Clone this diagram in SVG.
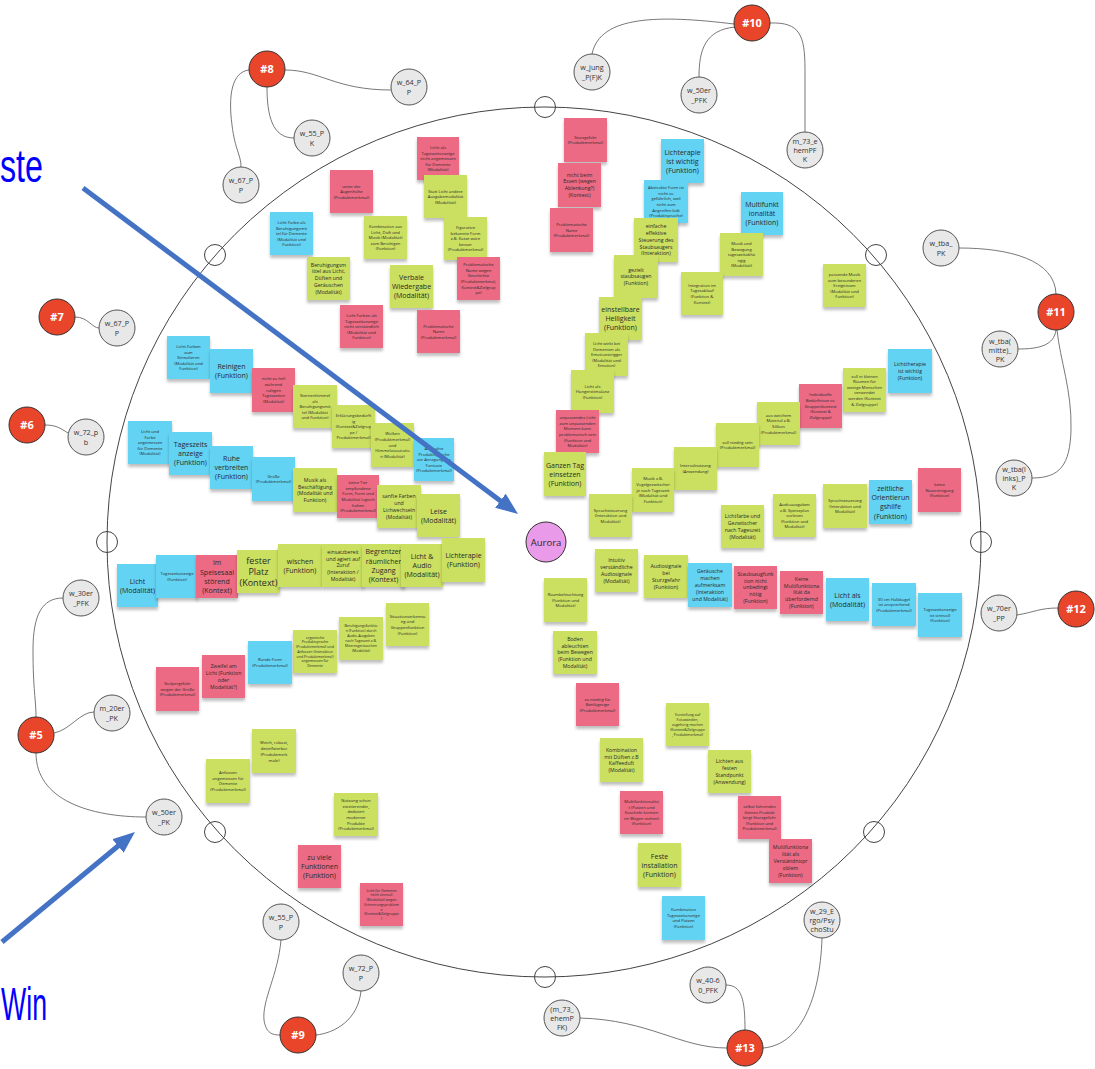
<svg xmlns="http://www.w3.org/2000/svg" width="1095" height="1069" viewBox="0 0 1095 1069">
<defs>
<filter id="sh" x="-10%" y="-10%" width="120%" height="140%"><feDropShadow dx="0" dy="3" stdDeviation="1.5" flood-color="#000" flood-opacity="0.25"/></filter>
<marker id="ah" viewBox="0 0 10 8" refX="2" refY="4" markerWidth="4.4" markerHeight="3.6" orient="auto" markerUnits="strokeWidth"><path d="M0,0 L10,4 L0,8 z" fill="#4472c4"/></marker>
<style>
.note rect{filter:url(#sh)}
.p rect{fill:#ec6a84}
.g rect{fill:#cbe060}
.b rect{fill:#62d3f3}
.t{font-family:"Open Sans","Liberation Sans",sans-serif;fill:#2a2a2a;text-anchor:middle}
.xs{font-size:3.6px}.s{font-size:4.2px}.m{font-size:5.2px}.l{font-size:7px}.xl{font-size:9px}
.per circle{fill:#e8e8e8;stroke:#555;stroke-width:1}
.per text{font-family:"Open Sans","Liberation Sans",sans-serif;font-size:7.2px;fill:#333;text-anchor:middle}
.red circle{fill:#e9452b;stroke:#333;stroke-width:1}
.red text{font-family:"Open Sans","Liberation Sans",sans-serif;font-size:11px;font-weight:bold;fill:#fff;text-anchor:middle}
.con path{fill:none;stroke:#555;stroke-width:0.8}
.ring{fill:none;stroke:#444;stroke-width:1}
.big{font-family:"Liberation Sans",sans-serif;font-size:46px;fill:#0000ff}
.arr{stroke:#4472c4;stroke-width:5;marker-end:url(#ah)}
</style>
</defs>
<rect width="1095" height="1069" fill="#fff"/>
<text class="big" x="0" y="182" textLength="43" lengthAdjust="spacingAndGlyphs">ste</text>
<text class="big" x="1" y="1020" textLength="46" lengthAdjust="spacingAndGlyphs">Win</text>

<g id="ring">
<ellipse class="ring" cx="544" cy="542" rx="437" ry="435"/>
<circle class="ring" cx="545" cy="107" r="10.5"/>
<circle class="ring" cx="545" cy="977" r="10.5"/>
<circle class="ring" cx="107" cy="542" r="10.5"/>
<circle class="ring" cx="981" cy="542" r="10.5"/>
<circle class="ring" cx="215" cy="255" r="10.5"/>
<circle class="ring" cx="876" cy="255" r="10.5"/>
<circle class="ring" cx="215" cy="832" r="10.5"/>
<circle class="ring" cx="874" cy="832" r="10.5"/>
</g>

<g id="connectors" class="con">
<path d="M249,70 C232,72 228,95 232,125 C235,150 241,155 241,167"/>
<path d="M285,70 C320,70 335,90 391,90"/>
<path d="M267,87 C267,115 272,138 294,138"/>
<path d="M734,24 C660,15 600,15 592,54"/>
<path d="M735,27 C705,30 699,50 699,77"/>
<path d="M770,23 C800,22 805,35 805,70 L805,132"/>
<path d="M959,248 C1010,248 1055,260 1056,294"/>
<path d="M1056,330 C1054,345 1040,349 1018,349"/>
<path d="M1057,330 C1060,360 1072,390 1071,430 C1070,465 1060,478 1032,478"/>
<path d="M75,317 C88,317 92,328 99,328"/>
<path d="M45,425 C56,425 60,428 68,433"/>
<path d="M63,598 C42,598 33,615 33,650 C33,690 36,700 36,717"/>
<path d="M54,733 C70,730 80,712 94,712"/>
<path d="M36,753 C36,800 90,817 146,817"/>
<path d="M1017,615 C1035,612 1040,608 1058,608"/>
<path d="M281,940 C278,975 262,1000 264,1020 C266,1033 272,1035 280,1035"/>
<path d="M361,991 C358,1020 335,1033 316,1035"/>
<path d="M580,1018 C650,1020 680,1048 727,1048"/>
<path d="M726,985 C742,985 745,1000 745,1030"/>
<path d="M763,1048 C800,1045 820,1000 822,938"/>
</g>

<g id="r8" class="red"><circle cx="267" cy="69" r="18"/><text x="267" y="73">#8</text></g>
<g id="r10" class="red"><circle cx="752" cy="23" r="18"/><text x="752" y="27">#10</text></g>
<g id="r11" class="red"><circle cx="1056" cy="312" r="18"/><text x="1056" y="316">#11</text></g>
<g id="r7" class="red"><circle cx="57" cy="317" r="18"/><text x="57" y="321">#7</text></g>
<g id="r6" class="red"><circle cx="27" cy="425" r="18"/><text x="27" y="429">#6</text></g>
<g id="r5" class="red"><circle cx="36" cy="735" r="18"/><text x="36" y="739">#5</text></g>
<g id="r12" class="red"><circle cx="1076" cy="609" r="18"/><text x="1076" y="613">#12</text></g>
<g id="r9" class="red"><circle cx="298" cy="1035" r="18"/><text x="298" y="1039">#9</text></g>
<g id="r13" class="red"><circle cx="745" cy="1048" r="18"/><text x="745" y="1052">#13</text></g>

<g id="p1" class="per"><circle cx="241" cy="185" r="18"/><text x="241" y="182.5">w_67_P<tspan x="241" dy="10">P</tspan></text></g>
<g id="p2" class="per"><circle cx="409" cy="87" r="18"/><text x="409" y="84.5">w_64_P<tspan x="409" dy="10">P</tspan></text></g>
<g id="p3" class="per"><circle cx="312" cy="138" r="18"/><text x="312" y="135.5">w_55_P<tspan x="312" dy="10">K</tspan></text></g>
<g id="p4" class="per"><circle cx="592" cy="72" r="18"/><text x="592" y="69.5">w_jung<tspan x="592" dy="10">_P(F)K</tspan></text></g>
<g id="p5" class="per"><circle cx="699" cy="95" r="18"/><text x="699" y="92.5">w_50er<tspan x="699" dy="10">_PFK</tspan></text></g>
<g id="p6" class="per"><circle cx="805" cy="150" r="18"/><text x="805" y="143.5">m_73_e<tspan x="805" dy="9">hemPF</tspan><tspan x="805" dy="9">K</tspan></text></g>
<g id="p7" class="per"><circle cx="941" cy="248" r="18"/><text x="941" y="245.5">w_tba_<tspan x="941" dy="10">PK</tspan></text></g>
<g id="p8" class="per"><circle cx="1000" cy="349" r="18"/><text x="1000" y="343.5">w_tba(<tspan x="1000" dy="9">mitte)_</tspan><tspan x="1000" dy="9">PK</tspan></text></g>
<g id="p9" class="per"><circle cx="1014" cy="478" r="18"/><text x="1014" y="471.5">w_tba(l<tspan x="1014" dy="9">inks)_P</tspan><tspan x="1014" dy="9">K</tspan></text></g>
<g id="p10" class="per"><circle cx="999" cy="613" r="18"/><text x="999" y="610.5">w_70er<tspan x="999" dy="10">_PP</tspan></text></g>
<g id="p11" class="per"><circle cx="117" cy="328" r="18"/><text x="117" y="325.5">w_67_P<tspan x="117" dy="10">P</tspan></text></g>
<g id="p12" class="per"><circle cx="86" cy="437" r="18"/><text x="86" y="434.5">w_72_p<tspan x="86" dy="10">b</tspan></text></g>
<g id="p13" class="per"><circle cx="81" cy="598" r="18"/><text x="81" y="595.5">w_30er<tspan x="81" dy="10">_PFK</tspan></text></g>
<g id="p14" class="per"><circle cx="112" cy="713" r="18"/><text x="112" y="710.5">m_20er<tspan x="112" dy="10">_PK</tspan></text></g>
<g id="p15" class="per"><circle cx="164" cy="817" r="18"/><text x="164" y="814.5">w_50er<tspan x="164" dy="10">_PK</tspan></text></g>
<g id="p16" class="per"><circle cx="281" cy="922" r="18"/><text x="281" y="919.5">w_55_P<tspan x="281" dy="10">P</tspan></text></g>
<g id="p17" class="per"><circle cx="361" cy="973" r="18"/><text x="361" y="970.5">w_72_P<tspan x="361" dy="10">P</tspan></text></g>
<g id="p18" class="per"><circle cx="562" cy="1018" r="18"/><text x="562" y="1011.5">(m_73_<tspan x="562" dy="9">ehemP</tspan><tspan x="562" dy="9">FK)</tspan></text></g>
<g id="p19" class="per"><circle cx="708" cy="985" r="18"/><text x="708" y="982.5">w_40-6<tspan x="708" dy="10">0_PFK</tspan></text></g>
<g id="p20" class="per"><circle cx="822" cy="920" r="18"/><text x="822" y="913.5">w_29_E<tspan x="822" dy="9">rgo/Psy</tspan><tspan x="822" dy="9">choStu</tspan></text></g>

<g id="n01" class="note p"><rect x="417" y="137" width="42" height="43"/><text class="t s" x="438" y="148.9"><tspan x="438">Licht als</tspan><tspan x="438" dy="5.6">Tageszeitanzeige</tspan><tspan x="438" dy="5.6">nicht angemessen</tspan><tspan x="438" dy="5.6">für Demente</tspan><tspan x="438" dy="5.6">(Modalität)</tspan></text></g>
<g id="n02" class="note p"><rect x="330" y="170" width="43" height="43"/><text class="t s" x="351.5" y="187.5"><tspan x="351.5">unter der</tspan><tspan x="351.5" dy="5.6">Augenhöhe</tspan><tspan x="351.5" dy="5.6">(Produktmerkmal)</tspan></text></g>
<g id="n03" class="note g"><rect x="424" y="175" width="43" height="43"/><text class="t s" x="445.5" y="192.5"><tspan x="445.5">Statt Licht andere</tspan><tspan x="445.5" dy="5.6">Ausgabemodalität</tspan><tspan x="445.5" dy="5.6">(Modalität)</tspan></text></g>
<g id="n04" class="note b"><rect x="270" y="212" width="43" height="43"/><text class="t s" x="291.5" y="223.9"><tspan x="291.5">Licht Farbe als</tspan><tspan x="291.5" dy="5.6">Beruhigungsmit</tspan><tspan x="291.5" dy="5.6">tel für Demente</tspan><tspan x="291.5" dy="5.6">(Modalität und</tspan><tspan x="291.5" dy="5.6">Funktion)</tspan></text></g>
<g id="n05" class="note g"><rect x="364" y="216" width="43" height="43"/><text class="t s" x="385.5" y="227.9"><tspan x="385.5">Kombination aus</tspan><tspan x="385.5" dy="5.6">Licht, Duft und</tspan><tspan x="385.5" dy="5.6">Musik (Modalität)</tspan><tspan x="385.5" dy="5.6">zum Beruhigen</tspan><tspan x="385.5" dy="5.6">(Funktion)</tspan></text></g>
<g id="n06" class="note g"><rect x="444" y="217" width="43" height="43"/><text class="t s" x="465.5" y="228.9"><tspan x="465.5">Figurative</tspan><tspan x="465.5" dy="5.6">bekannte Form</tspan><tspan x="465.5" dy="5.6">z.B. Katze wäre</tspan><tspan x="465.5" dy="5.6">besser</tspan><tspan x="465.5" dy="5.6">(Produktmerkmal)</tspan></text></g>
<g id="n07" class="note g"><rect x="307" y="257" width="43" height="43"/><text class="t m" x="328.5" y="266.6"><tspan x="328.5">Beruhigungsm</tspan><tspan x="328.5" dy="6.8">ittel aus Licht,</tspan><tspan x="328.5" dy="6.8">Düften und</tspan><tspan x="328.5" dy="6.8">Geräuschen</tspan><tspan x="328.5" dy="6.8">(Modalität)</tspan></text></g>
<g id="n08" class="note g"><rect x="390" y="265" width="43" height="43"/><text class="t l" x="411.5" y="280"><tspan x="411.5">Verbale</tspan><tspan x="411.5" dy="9.2">Wiedergabe</tspan><tspan x="411.5" dy="9.2">(Modalität)</tspan></text></g>
<g id="n09" class="note p"><rect x="457" y="257" width="43" height="43"/><text class="t s" x="478.5" y="266.1"><tspan x="478.5">Problematische</tspan><tspan x="478.5" dy="5.6">Name wegen</tspan><tspan x="478.5" dy="5.6">Geschichte</tspan><tspan x="478.5" dy="5.6">(Produktmerkmal,</tspan><tspan x="478.5" dy="5.6">Kontext&amp;Zielgrup</tspan><tspan x="478.5" dy="5.6">pe)</tspan></text></g>
<g id="n10" class="note p"><rect x="340" y="305" width="43" height="43"/><text class="t s" x="361.5" y="316.9"><tspan x="361.5">Licht Farben als</tspan><tspan x="361.5" dy="5.6">Tageszeitanzeige</tspan><tspan x="361.5" dy="5.6">nicht verständlich</tspan><tspan x="361.5" dy="5.6">(Modalität und</tspan><tspan x="361.5" dy="5.6">Funktion)</tspan></text></g>
<g id="n11" class="note p"><rect x="417" y="310" width="43" height="43"/><text class="t s" x="438.5" y="327.5"><tspan x="438.5">Problematische</tspan><tspan x="438.5" dy="5.6">Name</tspan><tspan x="438.5" dy="5.6">(Produktmerkmal)</tspan></text></g>

<g id="n13" class="note p"><rect x="564" y="118" width="43" height="44"/><text class="t s" x="585.5" y="138.8"><tspan x="585.5">Sturzgefahr</tspan><tspan x="585.5" dy="5.6">(Produktmerkmal)</tspan></text></g>
<g id="n14" class="note p"><rect x="558" y="163" width="43" height="44"/><text class="t m" x="579.5" y="176.6"><tspan x="579.5">nicht beim</tspan><tspan x="579.5" dy="6.8">Essen (wegen</tspan><tspan x="579.5" dy="6.8">Ablenkung?)</tspan><tspan x="579.5" dy="6.8">(Kontext)</tspan></text></g>
<g id="n15" class="note p"><rect x="550" y="208" width="43" height="44"/><text class="t s" x="571.5" y="226"><tspan x="571.5">Problematische</tspan><tspan x="571.5" dy="5.6">Name</tspan><tspan x="571.5" dy="5.6">(Produktmerkmal)</tspan></text></g>
<g id="n16" class="note b"><rect x="661" y="139" width="43" height="44"/><text class="t l" x="682.5" y="154.5"><tspan x="682.5">Lichterapie</tspan><tspan x="682.5" dy="9.2">ist wichtig</tspan><tspan x="682.5" dy="9.2">(Funktion)</tspan></text></g>
<g id="n17" class="note b"><rect x="644" y="180" width="44" height="43"/><text class="t s" x="666" y="189.1"><tspan x="666">Abstrakte Form ist</tspan><tspan x="666" dy="5.6">nicht so</tspan><tspan x="666" dy="5.6">gefährlich, weil</tspan><tspan x="666" dy="5.6">nicht zum</tspan><tspan x="666" dy="5.6">Angreifen lädt</tspan><tspan x="666" dy="5.6">(Produktsprache)</tspan></text></g>
<g id="n18" class="note g"><rect x="634" y="218" width="44" height="44"/><text class="t m" x="656" y="228.1"><tspan x="656">einfache</tspan><tspan x="656" dy="6.8">effektive</tspan><tspan x="656" dy="6.8">Steuerung des</tspan><tspan x="656" dy="6.8">Staubsaugers</tspan><tspan x="656" dy="6.8">(Interaktion)</tspan></text></g>
<g id="n19" class="note b"><rect x="741" y="192" width="42" height="43"/><text class="t l" x="762" y="207"><tspan x="762">Multifunkt</tspan><tspan x="762" dy="9.2">ionalität</tspan><tspan x="762" dy="9.2">(Funktion)</tspan></text></g>
<g id="n20" class="note g"><rect x="720" y="233" width="43" height="43"/><text class="t s" x="741.5" y="244.9"><tspan x="741.5">Musik und</tspan><tspan x="741.5" dy="5.6">Bewegung</tspan><tspan x="741.5" dy="5.6">tageszeitabhä</tspan><tspan x="741.5" dy="5.6">ngig</tspan><tspan x="741.5" dy="5.6">(Modalität)</tspan></text></g>
<g id="n21" class="note g"><rect x="614" y="255" width="44" height="43"/><text class="t m" x="636" y="271.6"><tspan x="636">gezielt</tspan><tspan x="636" dy="6.8">staubsaugen</tspan><tspan x="636" dy="6.8">(Funktion)</tspan></text></g>
<g id="n22" class="note g"><rect x="681" y="272" width="42" height="43"/><text class="t s" x="702" y="286.7"><tspan x="702">Integration im</tspan><tspan x="702" dy="5.6">Tagesablauf</tspan><tspan x="702" dy="5.6">(Funktion &amp;</tspan><tspan x="702" dy="5.6">Kontext)</tspan></text></g>
<g id="n23" class="note g"><rect x="599" y="297" width="43" height="43"/><text class="t l" x="620.5" y="312"><tspan x="620.5">einstellbare</tspan><tspan x="620.5" dy="9.2">Helligkeit</tspan><tspan x="620.5" dy="9.2">(Funktion)</tspan></text></g>
<g id="n24" class="note g"><rect x="585" y="333" width="43" height="43"/><text class="t s" x="606.5" y="344.9"><tspan x="606.5">Licht wirkt bei</tspan><tspan x="606.5" dy="5.6">Dementen als</tspan><tspan x="606.5" dy="5.6">Emotionstrigger</tspan><tspan x="606.5" dy="5.6">(Modalität und</tspan><tspan x="606.5" dy="5.6">Emotion)</tspan></text></g>
<g id="n25" class="note g"><rect x="571" y="370" width="43" height="43"/><text class="t s" x="592.5" y="387.5"><tspan x="592.5">Licht als</tspan><tspan x="592.5" dy="5.6">Hungerstimulanz</tspan><tspan x="592.5" dy="5.6">(Funktion)</tspan></text></g>
<g id="n26" class="note p"><rect x="556" y="410" width="43" height="43"/><text class="t s" x="577.5" y="419.1"><tspan x="577.5">unpassendes Licht</tspan><tspan x="577.5" dy="5.6">zum unpassenden</tspan><tspan x="577.5" dy="5.6">Moment kann</tspan><tspan x="577.5" dy="5.6">problematisch sein</tspan><tspan x="577.5" dy="5.6">(Funktion und</tspan><tspan x="577.5" dy="5.6">Modalität)</tspan></text></g>
<g id="n27" class="note g"><rect x="544" y="452" width="42" height="44"/><text class="t l" x="565" y="467.5"><tspan x="565">Ganzen Tag</tspan><tspan x="565" dy="9.2">einsetzen</tspan><tspan x="565" dy="9.2">(Funktion)</tspan></text></g>

<g id="n53" class="note g"><rect x="823" y="264" width="43" height="43"/><text class="t s" x="844.5" y="275.9"><tspan x="844.5">passende Musik</tspan><tspan x="844.5" dy="5.6">zum besonderen</tspan><tspan x="844.5" dy="5.6">Ereignissen</tspan><tspan x="844.5" dy="5.6">(Modalität und</tspan><tspan x="844.5" dy="5.6">Funktion)</tspan></text></g>
<g id="n47" class="note b"><rect x="888" y="349" width="44" height="44"/><text class="t m" x="910" y="366.1"><tspan x="910">Lichttherapie</tspan><tspan x="910" dy="6.8">ist wichtig</tspan><tspan x="910" dy="6.8">(Funktion)</tspan></text></g>
<g id="n46" class="note g"><rect x="843" y="368" width="43" height="44"/><text class="t s" x="864.5" y="377.6"><tspan x="864.5">soll in kleinen</tspan><tspan x="864.5" dy="5.6">Räumen für</tspan><tspan x="864.5" dy="5.6">wenige Menschen</tspan><tspan x="864.5" dy="5.6">verwendet</tspan><tspan x="864.5" dy="5.6">werden (Kontext</tspan><tspan x="864.5" dy="5.6">&amp; Zielgruppe)</tspan></text></g>
<g id="n33" class="note p"><rect x="799" y="384" width="43" height="44"/><text class="t s" x="820.5" y="396.4"><tspan x="820.5">Individuelle</tspan><tspan x="820.5" dy="5.6">Bedürfnisse vs.</tspan><tspan x="820.5" dy="5.6">Gruppenkontext</tspan><tspan x="820.5" dy="5.6">(Kontext &amp;</tspan><tspan x="820.5" dy="5.6">Zielgruppe)</tspan></text></g>
<g id="n32" class="note g"><rect x="757" y="402" width="43" height="43"/><text class="t s" x="778.5" y="416.7"><tspan x="778.5">aus weichem</tspan><tspan x="778.5" dy="5.6">Material z.B.</tspan><tspan x="778.5" dy="5.6">Silikon</tspan><tspan x="778.5" dy="5.6">(Produktmerkmal)</tspan></text></g>
<g id="n31" class="note g"><rect x="716" y="423" width="43" height="44"/><text class="t s" x="737.5" y="443.8"><tspan x="737.5">soll niedrig sein</tspan><tspan x="737.5" dy="5.6">(Produktmerkmal)</tspan></text></g>
<g id="n30" class="note g"><rect x="674" y="447" width="43" height="43"/><text class="t s" x="695.5" y="467.3"><tspan x="695.5">Intervalnutzung</tspan><tspan x="695.5" dy="5.6">(Anwendung)</tspan></text></g>
<g id="n29" class="note g"><rect x="632" y="468" width="42" height="44"/><text class="t s" x="653" y="480.4"><tspan x="653">Musik z.B.</tspan><tspan x="653" dy="5.6">Vogelgezwitscher</tspan><tspan x="653" dy="5.6">je nach Tageszeit</tspan><tspan x="653" dy="5.6">(Modalität und</tspan><tspan x="653" dy="5.6">Funktion)</tspan></text></g>
<g id="n28" class="note g"><rect x="589" y="494" width="43" height="43"/><text class="t s" x="610.5" y="511.5"><tspan x="610.5">Sprachsteuerung</tspan><tspan x="610.5" dy="5.6">(Interaktion und</tspan><tspan x="610.5" dy="5.6">Modalität)</tspan></text></g>
<g id="n49" class="note p"><rect x="918" y="468" width="43" height="44"/><text class="t s" x="939.5" y="486"><tspan x="939.5">keine</tspan><tspan x="939.5" dy="5.6">Nassreinigung</tspan><tspan x="939.5" dy="5.6">(Funktion)</tspan></text></g>
<g id="n48" class="note b"><rect x="869" y="480" width="43" height="44"/><text class="t l" x="890.5" y="490.9"><tspan x="890.5">zeitliche</tspan><tspan x="890.5" dy="9.2">Orientierun</tspan><tspan x="890.5" dy="9.2">gshilfe</tspan><tspan x="890.5" dy="9.2">(Funktion)</tspan></text></g>
<g id="n36" class="note g"><rect x="823" y="484" width="44" height="44"/><text class="t s" x="845" y="502"><tspan x="845">Sprachsteuerung</tspan><tspan x="845" dy="5.6">(Interaktion und</tspan><tspan x="845" dy="5.6">Modalität)</tspan></text></g>
<g id="n35" class="note g"><rect x="773" y="494" width="43" height="43"/><text class="t s" x="794.5" y="505.9"><tspan x="794.5">Audioausgaben</tspan><tspan x="794.5" dy="5.6">z.B. Speiseplan</tspan><tspan x="794.5" dy="5.6">vorlesen</tspan><tspan x="794.5" dy="5.6">(Funktion und</tspan><tspan x="794.5" dy="5.6">Modalität)</tspan></text></g>
<g id="n34" class="note g"><rect x="721" y="505" width="43" height="43"/><text class="t m" x="742.5" y="518.2"><tspan x="742.5">Lichtfarbe und</tspan><tspan x="742.5" dy="6.8">Gezwitscher</tspan><tspan x="742.5" dy="6.8">nach Tageszeit</tspan><tspan x="742.5" dy="6.8">(Modalität)</tspan></text></g>

<g id="n37" class="note g"><rect x="595" y="549" width="43" height="43"/><text class="t m" x="616.5" y="562.2"><tspan x="616.5">Intuitiv</tspan><tspan x="616.5" dy="6.8">verständliche</tspan><tspan x="616.5" dy="6.8">Audiosignale</tspan><tspan x="616.5" dy="6.8">(Modalität)</tspan></text></g>
<g id="n38" class="note g"><rect x="644" y="555" width="44" height="43"/><text class="t m" x="666" y="568.2"><tspan x="666">Audiosignale</tspan><tspan x="666" dy="6.8">bei</tspan><tspan x="666" dy="6.8">Sturzgefahr</tspan><tspan x="666" dy="6.8">(Funktion)</tspan></text></g>
<g id="n39" class="note b"><rect x="688" y="563" width="44" height="44"/><text class="t m" x="710" y="573.3"><tspan x="710">Geräusche</tspan><tspan x="710" dy="6.8">machen</tspan><tspan x="710" dy="6.8">aufmerksam</tspan><tspan x="710" dy="6.8">(Interaktion</tspan><tspan x="710" dy="6.8">und Modalität)</tspan></text></g>
<g id="n40" class="note p"><rect x="734" y="566" width="43" height="43"/><text class="t m" x="755.5" y="575.8"><tspan x="755.5">Staubsaugfunk</tspan><tspan x="755.5" dy="6.8">tion nicht</tspan><tspan x="755.5" dy="6.8">unbedingt</tspan><tspan x="755.5" dy="6.8">nötig</tspan><tspan x="755.5" dy="6.8">(Funktion)</tspan></text></g>
<g id="n41" class="note p"><rect x="780" y="571" width="43" height="43"/><text class="t m" x="801.5" y="580.8"><tspan x="801.5">Keine</tspan><tspan x="801.5" dy="6.8">Multifunktiona</tspan><tspan x="801.5" dy="6.8">lität da</tspan><tspan x="801.5" dy="6.8">überfordernd</tspan><tspan x="801.5" dy="6.8">(Funktion)</tspan></text></g>
<g id="n50" class="note b"><rect x="826" y="578" width="43" height="43"/><text class="t l" x="847.5" y="597.6"><tspan x="847.5">Licht als</tspan><tspan x="847.5" dy="9.2">(Modalität)</tspan></text></g>
<g id="n51" class="note b"><rect x="872" y="583" width="44" height="43"/><text class="t s" x="894" y="600.5"><tspan x="894">30 cm Halbkugel</tspan><tspan x="894" dy="5.6">ist ansprechend</tspan><tspan x="894" dy="5.6">(Produktmerkmal)</tspan></text></g>
<g id="n52" class="note b"><rect x="918" y="593" width="44" height="44"/><text class="t s" x="940" y="611"><tspan x="940">Tageszeitanzeige</tspan><tspan x="940" dy="5.6">ist sinnvoll</tspan><tspan x="940" dy="5.6">(Funktion)</tspan></text></g>
<g id="n42" class="note g"><rect x="544" y="578" width="43" height="44"/><text class="t s" x="565.5" y="596"><tspan x="565.5">Raumbeleuchtung</tspan><tspan x="565.5" dy="5.6">(Funktion und</tspan><tspan x="565.5" dy="5.6">Modalität)</tspan></text></g>
<g id="n43" class="note g"><rect x="553" y="631" width="44" height="43"/><text class="t m" x="575" y="640.8"><tspan x="575">Boden</tspan><tspan x="575" dy="6.8">ableuchten</tspan><tspan x="575" dy="6.8">beim Bewegen</tspan><tspan x="575" dy="6.8">(Funktion und</tspan><tspan x="575" dy="6.8">Modalität)</tspan></text></g>
<g id="n44" class="note p"><rect x="576" y="683" width="43" height="43"/><text class="t s" x="597.5" y="700.5"><tspan x="597.5">zu niedrig für</tspan><tspan x="597.5" dy="5.6">Bettlägerige</tspan><tspan x="597.5" dy="5.6">(Produktmerkmal)</tspan></text></g>
<g id="n45" class="note g"><rect x="666" y="703" width="43" height="43"/><text class="t xs" x="687.5" y="715.8"><tspan x="687.5">Vorstellung auf</tspan><tspan x="687.5" dy="5">Fotowänden,</tspan><tspan x="687.5" dy="5">zugehörig machen</tspan><tspan x="687.5" dy="5">(Kontext&amp;Zielgruppe</tspan><tspan x="687.5" dy="5">, Produktmerkmal)</tspan></text></g>
<g id="n89" class="note g"><rect x="600" y="738" width="43" height="44"/><text class="t m" x="621.5" y="751.7"><tspan x="621.5">Kombination</tspan><tspan x="621.5" dy="6.8">mit Düften z.B</tspan><tspan x="621.5" dy="6.8">Kaffeeduft</tspan><tspan x="621.5" dy="6.8">(Modalität)</tspan></text></g>
<g id="n90" class="note g"><rect x="708" y="750" width="43" height="43"/><text class="t m" x="729.5" y="763.2"><tspan x="729.5">Lichten aus</tspan><tspan x="729.5" dy="6.8">festen</tspan><tspan x="729.5" dy="6.8">Standpunkt</tspan><tspan x="729.5" dy="6.8">(Anwendung)</tspan></text></g>
<g id="n91" class="note p"><rect x="620" y="791" width="43" height="43"/><text class="t s" x="641.5" y="802.9"><tspan x="641.5">Multifunktionalitä</tspan><tspan x="641.5" dy="5.6">t (Putzen und</tspan><tspan x="641.5" dy="5.6">Kuscheln können</tspan><tspan x="641.5" dy="5.6">im Wegen stehen)</tspan><tspan x="641.5" dy="5.6">(Funktion)</tspan></text></g>
<g id="n92" class="note p"><rect x="738" y="796" width="43" height="43"/><text class="t s" x="759.5" y="807.9"><tspan x="759.5">selbst fahrendes</tspan><tspan x="759.5" dy="5.6">kleines Produkt</tspan><tspan x="759.5" dy="5.6">birgt Sturzgefahr</tspan><tspan x="759.5" dy="5.6">(Funktion und</tspan><tspan x="759.5" dy="5.6">Produktmerkmal)</tspan></text></g>
<g id="n93" class="note p"><rect x="769" y="839" width="43" height="44"/><text class="t m" x="790.5" y="849.3"><tspan x="790.5">Multifunktiona</tspan><tspan x="790.5" dy="6.8">lität als</tspan><tspan x="790.5" dy="6.8">Verständnispr</tspan><tspan x="790.5" dy="6.8">oblem</tspan><tspan x="790.5" dy="6.8">(Funktion)</tspan></text></g>
<g id="n94" class="note g"><rect x="638" y="843" width="43" height="44"/><text class="t l" x="659.5" y="858.5"><tspan x="659.5">Feste</tspan><tspan x="659.5" dy="9.2">installation</tspan><tspan x="659.5" dy="9.2">(Funktion)</tspan></text></g>
<g id="n95" class="note b"><rect x="662" y="896" width="43" height="44"/><text class="t s" x="683.5" y="911.2"><tspan x="683.5">Kombination</tspan><tspan x="683.5" dy="5.6">Tageszeitanzeige</tspan><tspan x="683.5" dy="5.6">und Putzen</tspan><tspan x="683.5" dy="5.6">(Funktion)</tspan></text></g>

<g id="n54" class="note b"><rect x="167" y="336" width="43" height="43"/><text class="t s" x="188.5" y="347.9"><tspan x="188.5">Licht-Farben</tspan><tspan x="188.5" dy="5.6">zum</tspan><tspan x="188.5" dy="5.6">Stimulieren</tspan><tspan x="188.5" dy="5.6">(Modalität und</tspan><tspan x="188.5" dy="5.6">Funktion)</tspan></text></g>
<g id="n55" class="note b"><rect x="210" y="349" width="43" height="44"/><text class="t l" x="231.5" y="369.1"><tspan x="231.5">Reinigen</tspan><tspan x="231.5" dy="9.2">(Funktion)</tspan></text></g>
<g id="n56" class="note p"><rect x="252" y="368" width="43" height="44"/><text class="t s" x="273.5" y="380.4"><tspan x="273.5">nicht zu hell</tspan><tspan x="273.5" dy="5.6">während</tspan><tspan x="273.5" dy="5.6">ruhigen</tspan><tspan x="273.5" dy="5.6">Tageszeiten</tspan><tspan x="273.5" dy="5.6">(Modalität)</tspan></text></g>
<g id="n61" class="note g"><rect x="293" y="385" width="44" height="43"/><text class="t s" x="315" y="396.9"><tspan x="315">Sternenhimmel</tspan><tspan x="315" dy="5.6">als</tspan><tspan x="315" dy="5.6">Beruhigungsmit</tspan><tspan x="315" dy="5.6">tel (Modalität</tspan><tspan x="315" dy="5.6">und Funktion)</tspan></text></g>
<g id="n62" class="note g"><rect x="332" y="405" width="43" height="43"/><text class="t s" x="353.5" y="416.9"><tspan x="353.5">Erklärungsbedürft</tspan><tspan x="353.5" dy="5.6">ig</tspan><tspan x="353.5" dy="5.6">(Kontext&amp;Zielgrup</tspan><tspan x="353.5" dy="5.6">pe /</tspan><tspan x="353.5" dy="5.6">Produktmerkmal)</tspan></text></g>
<g id="n63" class="note g"><rect x="371" y="423" width="43" height="44"/><text class="t s" x="392.5" y="435.4"><tspan x="392.5">Wolken</tspan><tspan x="392.5" dy="5.6">(Produktmerkmal)</tspan><tspan x="392.5" dy="5.6">und</tspan><tspan x="392.5" dy="5.6">Himmelassoziatio</tspan><tspan x="392.5" dy="5.6">n (Modalität)</tspan></text></g>
<g id="n64" class="note b"><rect x="414" y="438" width="40" height="43"/><text class="t s" x="434" y="449.9"><tspan x="434">Abstrakte</tspan><tspan x="434" dy="5.6">Produktsprache</tspan><tspan x="434" dy="5.6">zur Anregung der</tspan><tspan x="434" dy="5.6">Fantasie</tspan><tspan x="434" dy="5.6">(Produktmerkmal)</tspan></text></g>
<g id="n57" class="note b"><rect x="128" y="421" width="44" height="43"/><text class="t s" x="150" y="432.9"><tspan x="150">Licht und</tspan><tspan x="150" dy="5.6">Farbe</tspan><tspan x="150" dy="5.6">angemessen</tspan><tspan x="150" dy="5.6">für Demente</tspan><tspan x="150" dy="5.6">(Modalität)</tspan></text></g>
<g id="n58" class="note b"><rect x="169" y="432" width="43" height="43"/><text class="t l" x="190.5" y="447"><tspan x="190.5">Tageszeits</tspan><tspan x="190.5" dy="9.2">anzeige</tspan><tspan x="190.5" dy="9.2">(Funktion)</tspan></text></g>
<g id="n59" class="note b"><rect x="210" y="446" width="43" height="43"/><text class="t l" x="231.5" y="461"><tspan x="231.5">Ruhe</tspan><tspan x="231.5" dy="9.2">verbreiten</tspan><tspan x="231.5" dy="9.2">(Funktion)</tspan></text></g>
<g id="n60" class="note b"><rect x="252" y="457" width="43" height="44"/><text class="t s" x="273.5" y="477.8"><tspan x="273.5">Größe</tspan><tspan x="273.5" dy="5.6">(Produktmerkmal)</tspan></text></g>
<g id="n65" class="note g"><rect x="293" y="468" width="44" height="44"/><text class="t m" x="315" y="481.7"><tspan x="315">Musik als</tspan><tspan x="315" dy="6.8">Beschäftigung</tspan><tspan x="315" dy="6.8">(Modalität und</tspan><tspan x="315" dy="6.8">Funktion)</tspan></text></g>
<g id="n66" class="note p"><rect x="337" y="475" width="42" height="43"/><text class="t s" x="358" y="484.1"><tspan x="358">keine Tier</tspan><tspan x="358" dy="5.6">empfundene</tspan><tspan x="358" dy="5.6">Form, Form und</tspan><tspan x="358" dy="5.6">Modalität logisch</tspan><tspan x="358" dy="5.6">halten</tspan><tspan x="358" dy="5.6">(Produktmerkmal)</tspan></text></g>
<g id="n67" class="note g"><rect x="377" y="485" width="44" height="43"/><text class="t m" x="399" y="498.2"><tspan x="399">sanfte Farben</tspan><tspan x="399" dy="6.8">und</tspan><tspan x="399" dy="6.8">Lichwechseln</tspan><tspan x="399" dy="6.8">(Modalität)</tspan></text></g>
<g id="n68" class="note g"><rect x="417" y="494" width="43" height="43"/><text class="t l" x="438.5" y="513.6"><tspan x="438.5">Leise</tspan><tspan x="438.5" dy="9.2">(Modalität)</tspan></text></g>

<g id="n69" class="note b"><rect x="117" y="564" width="41" height="43"/><text class="t l" x="137.5" y="583.6"><tspan x="137.5">Licht</tspan><tspan x="137.5" dy="9.2">(Modalität)</tspan></text></g>
<g id="n70" class="note b"><rect x="156" y="555" width="42" height="43"/><text class="t s" x="177" y="575.3"><tspan x="177">Tageszeitanzeige</tspan><tspan x="177" dy="5.6">(Funktion)</tspan></text></g>
<g id="n71" class="note p"><rect x="196" y="555" width="42" height="43"/><text class="t l" x="217" y="565.4"><tspan x="217">im</tspan><tspan x="217" dy="9.2">Speisesaal</tspan><tspan x="217" dy="9.2">störend</tspan><tspan x="217" dy="9.2">(Kontext)</tspan></text></g>
<g id="n72" class="note g"><rect x="237" y="550" width="43" height="43"/><text class="t xl" x="258.5" y="563.7"><tspan x="258.5">fester</tspan><tspan x="258.5" dy="11">Platz</tspan><tspan x="258.5" dy="11">(Kontext)</tspan></text></g>
<g id="n73" class="note g"><rect x="278" y="544" width="44" height="43"/><text class="t l" x="300" y="563.6"><tspan x="300">wischen</tspan><tspan x="300" dy="9.2">(Funktion)</tspan></text></g>
<g id="n74" class="note g"><rect x="322" y="544" width="42" height="43"/><text class="t m" x="343" y="553.8"><tspan x="343">einsatzbereit</tspan><tspan x="343" dy="6.8">und agiert auf</tspan><tspan x="343" dy="6.8">Zuruf</tspan><tspan x="343" dy="6.8">(Interaktion /</tspan><tspan x="343" dy="6.8">Modalität)</tspan></text></g>
<g id="n75" class="note g"><rect x="362" y="544" width="43" height="43"/><text class="t l" x="383.5" y="554.4"><tspan x="383.5">Begrentzer</tspan><tspan x="383.5" dy="9.2">räumlicher</tspan><tspan x="383.5" dy="9.2">Zugang</tspan><tspan x="383.5" dy="9.2">(Kontext)</tspan></text></g>
<g id="n76" class="note g"><rect x="401" y="544" width="42" height="43"/><text class="t l" x="422" y="559"><tspan x="422">Licht &amp;</tspan><tspan x="422" dy="9.2">Audio</tspan><tspan x="422" dy="9.2">(Modalität)</tspan></text></g>
<g id="n77" class="note g"><rect x="442" y="538" width="43" height="44"/><text class="t l" x="463.5" y="558.1"><tspan x="463.5">Lichterapie</tspan><tspan x="463.5" dy="9.2">(Funktion)</tspan></text></g>

<g id="n83" class="note g"><rect x="386" y="603" width="43" height="43"/><text class="t s" x="407.5" y="617.7"><tspan x="407.5">Situationserkennu</tspan><tspan x="407.5" dy="5.6">ng und</tspan><tspan x="407.5" dy="5.6">Gruppenfunktion</tspan><tspan x="407.5" dy="5.6">(Funktion)</tspan></text></g>
<g id="n82" class="note g"><rect x="339" y="617" width="44" height="43"/><text class="t xs" x="361" y="627.3"><tspan x="361">Beruhigungsfunktio</tspan><tspan x="361" dy="5">n (Funktion) durch</tspan><tspan x="361" dy="5">Audio-Ausgaben</tspan><tspan x="361" dy="5">nach Tageszeit z.B.</tspan><tspan x="361" dy="5">Meeresgeräuschen</tspan><tspan x="361" dy="5">(Modalität)</tspan></text></g>
<g id="n81" class="note g"><rect x="293" y="630" width="44" height="43"/><text class="t xs" x="315" y="638.7"><tspan x="315">organische</tspan><tspan x="315" dy="4.7">Produktsprache</tspan><tspan x="315" dy="4.7">(Produktmerkmal) und</tspan><tspan x="315" dy="4.7">Anfassen (Interaktion</tspan><tspan x="315" dy="4.7">und Produktmerkmal)</tspan><tspan x="315" dy="4.7">angemessen für</tspan><tspan x="315" dy="4.7">Demente</tspan></text></g>
<g id="n80" class="note b"><rect x="248" y="641" width="44" height="43"/><text class="t s" x="270" y="661.3"><tspan x="270">Runde Form</tspan><tspan x="270" dy="5.6">(Produktmerkmal)</tspan></text></g>
<g id="n79" class="note p"><rect x="202" y="655" width="43" height="43"/><text class="t m" x="223.5" y="668.2"><tspan x="223.5">Zweifel am</tspan><tspan x="223.5" dy="6.8">Licht (Funktion</tspan><tspan x="223.5" dy="6.8">oder</tspan><tspan x="223.5" dy="6.8">Modalität?)</tspan></text></g>
<g id="n78" class="note p"><rect x="156" y="667" width="43" height="44"/><text class="t s" x="177.5" y="685"><tspan x="177.5">Stolpergefahr</tspan><tspan x="177.5" dy="5.6">wegen der Größe</tspan><tspan x="177.5" dy="5.6">(Produktmerkmal)</tspan></text></g>
<g id="n84" class="note g"><rect x="252" y="729" width="44" height="44"/><text class="t s" x="274" y="743.6"><tspan x="274">Weich, robust,</tspan><tspan x="274" dy="6">desinfizierbar</tspan><tspan x="274" dy="6">(Produktmerk</tspan><tspan x="274" dy="6">male)</tspan></text></g>
<g id="n85" class="note g"><rect x="206" y="759" width="44" height="44"/><text class="t s" x="228" y="774.2"><tspan x="228">Anfassen</tspan><tspan x="228" dy="5.6">angemessen für</tspan><tspan x="228" dy="5.6">Demente</tspan><tspan x="228" dy="5.6">(Produktmerkmal)</tspan></text></g>
<g id="n86" class="note g"><rect x="334" y="793" width="44" height="43"/><text class="t s" x="356" y="802.1"><tspan x="356">Nutzung schon</tspan><tspan x="356" dy="5.6">existierender,</tspan><tspan x="356" dy="5.6">dediziert</tspan><tspan x="356" dy="5.6">moderner</tspan><tspan x="356" dy="5.6">Produkte</tspan><tspan x="356" dy="5.6">(Produktmerkmal)</tspan></text></g>
<g id="n87" class="note p"><rect x="298" y="845" width="43" height="43"/><text class="t l" x="319.5" y="860"><tspan x="319.5">zu viele</tspan><tspan x="319.5" dy="9.2">Funktionen</tspan><tspan x="319.5" dy="9.2">(Funktion)</tspan></text></g>
<g id="n88" class="note p"><rect x="360" y="883" width="43" height="43"/><text class="t xs" x="381.5" y="891.7"><tspan x="381.5">Licht für Demente</tspan><tspan x="381.5" dy="4.7">nicht sinnvoll</tspan><tspan x="381.5" dy="4.7">(Modalität) wegen</tspan><tspan x="381.5" dy="4.7">Erinnerungsproblem</tspan><tspan x="381.5" dy="4.7">e</tspan><tspan x="381.5" dy="4.7">(Kontext&amp;Zielgruppe</tspan><tspan x="381.5" dy="4.7">)</tspan></text></g>

<g id="aurora"><circle cx="546" cy="542" r="20" fill="#e99be9" stroke="#333" stroke-width="1"/><text class="t" x="546" y="545.5" style="font-size:9.5px">Aurora</text></g>

<g id="arrows">
<line class="arr" x1="83" y1="188" x2="503.9" y2="503.4"/>
<line class="arr" x1="2" y1="942" x2="121.4" y2="843.2"/>
</g>
</svg>
